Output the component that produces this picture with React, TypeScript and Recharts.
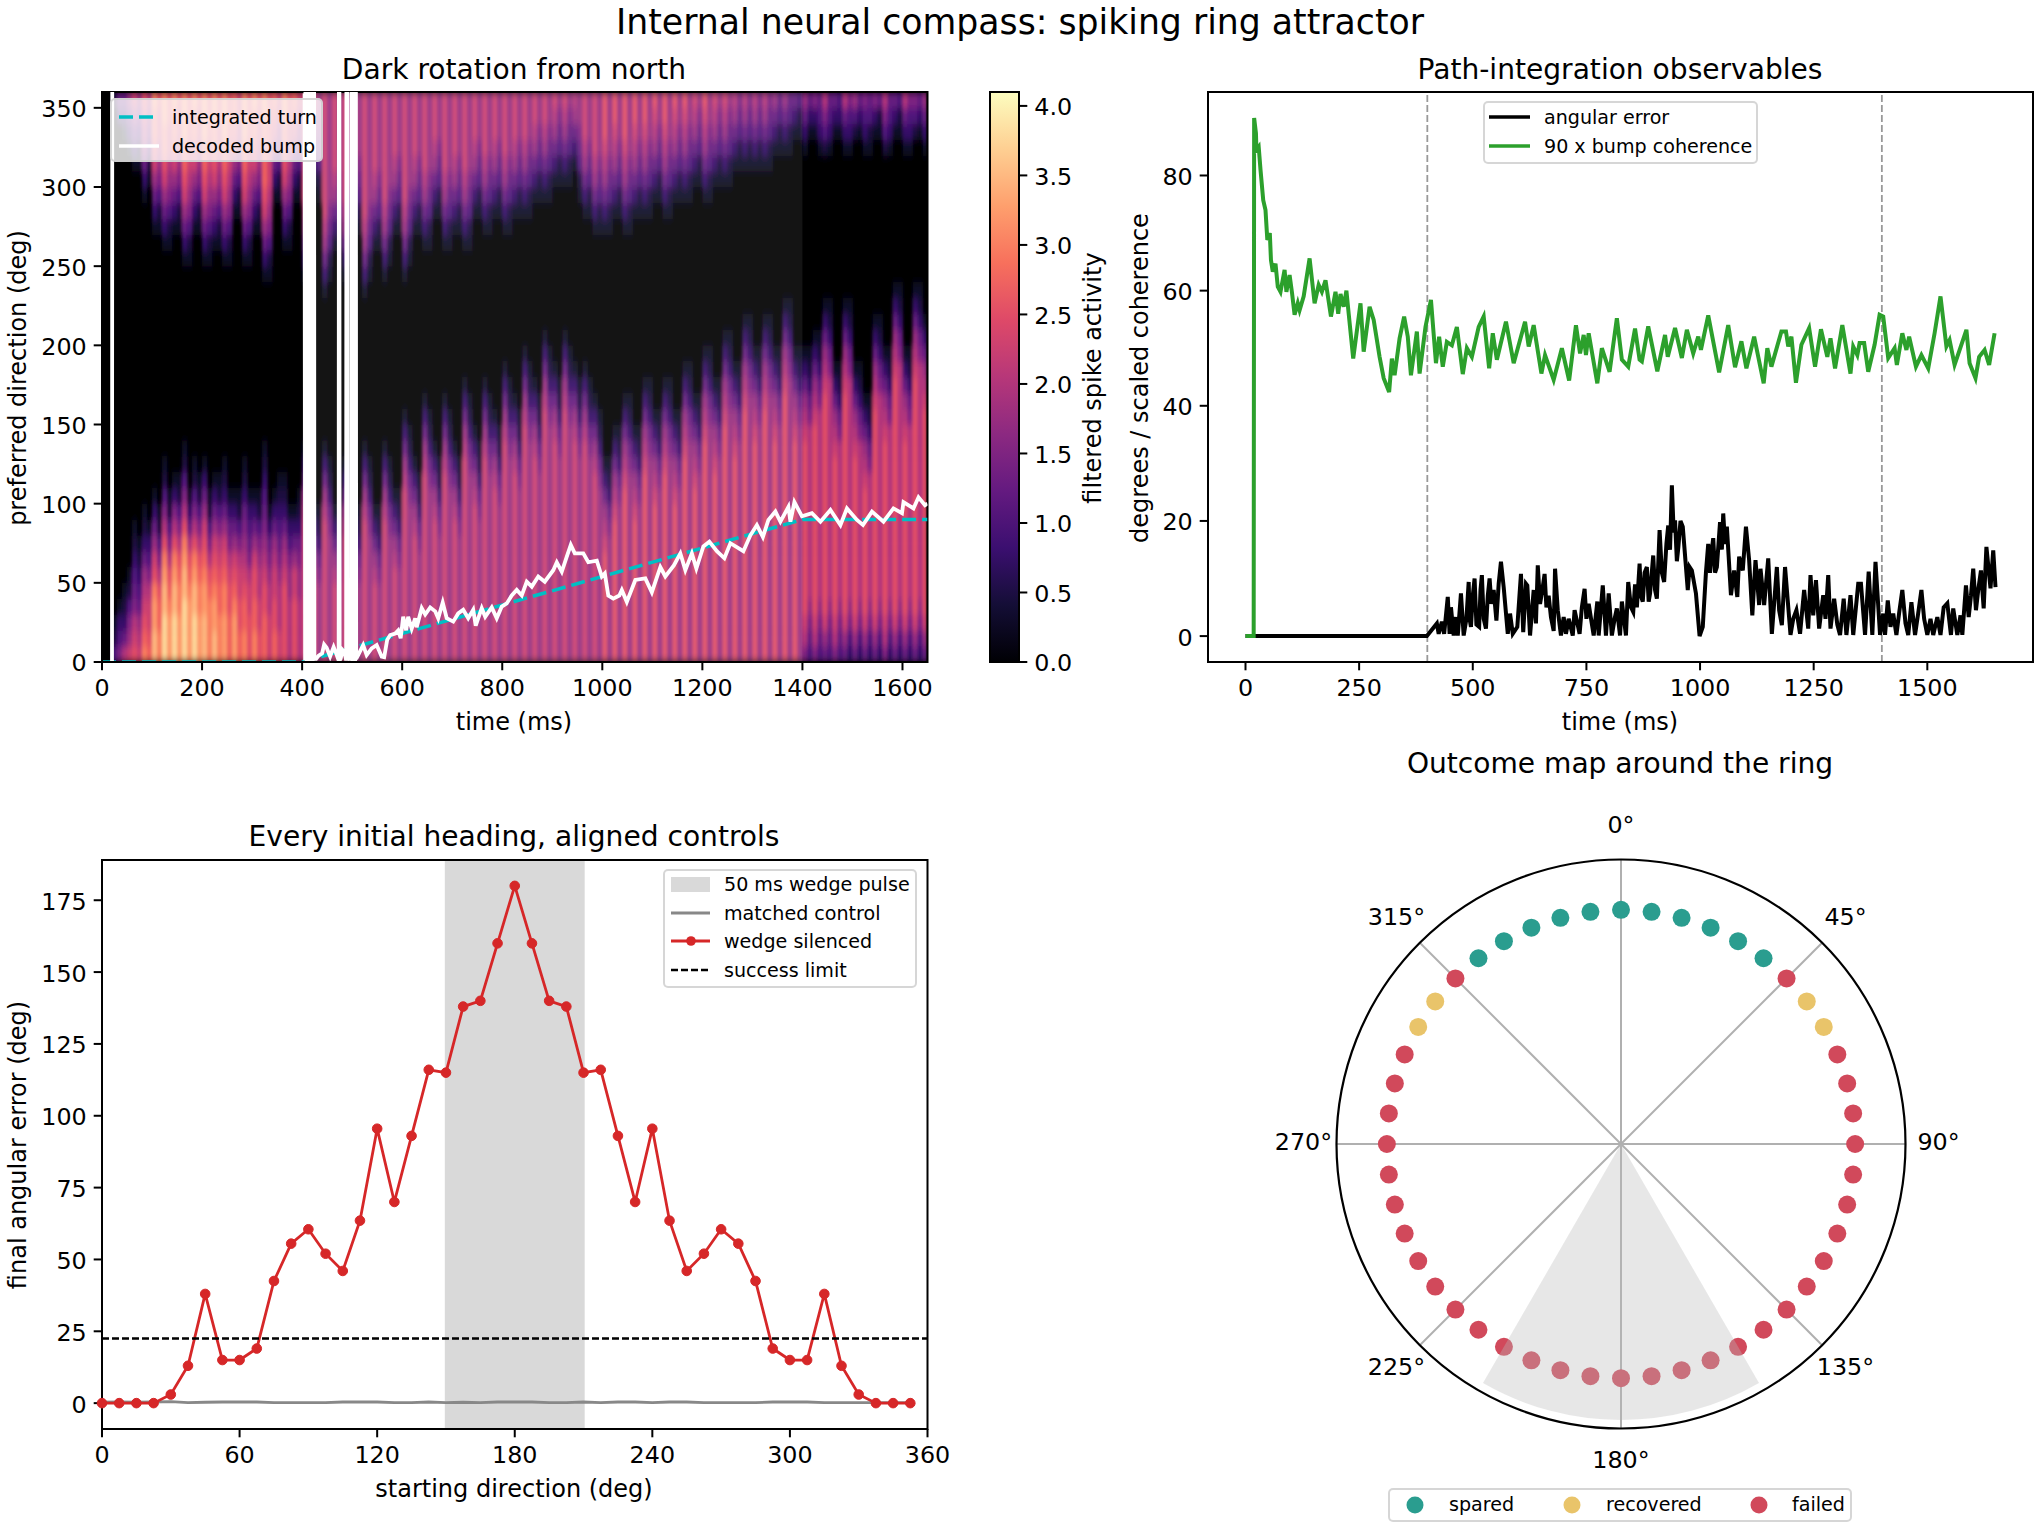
import React from "react";
import {
  ComposedChart,
  ScatterChart,
  Scatter,
  RadarChart,
  Radar,
  PolarGrid,
  PolarAngleAxis,
  PolarRadiusAxis,
  PieChart,
  Pie,
  Line,
  Area,
  XAxis,
  YAxis,
  ReferenceArea,
  ReferenceLine,
} from "recharts";

const FONT = '"DejaVu Sans", sans-serif';

// heatmap: one string per 10 ms column, "from 0 deg upward|ending at 360 deg", one char per 10 deg, in 0.25 steps
const heatColumns = [
  // 0-90
  "|", "|", "421|2", "6431|35", "85321|135", "976421|1357", "a98654321|13579", "98754321|12467", "cba9875321|135789a", "ba9986431|124678",
  // 100-190
  "eeddca97531|13579abbc", "ccbba86421|12467899a", "fffeedca86421|13579abbcc", "dddcba86421|12467899aa", "fffeedca8631|13579abbc", "dddccba86421|12467899a", "ffffeedca86421|13579abbccc", "ddddcba8531|12467899aaa", "fffeedca86421|13579abbc", "dddccba86421|12467899a",
  // 200-290
  "eeeddcba97531|13579abbccc", "ccccba86421|12467899aaa", "eeddcba97531|13579abbcc", "cccbba986421|12467899aa", "dddccba975321|13579abbccc", "bbbaa986531|12467899aaa", "dddcba97531|13579abb", "bbaa9986421|12467899", "ccbba98765321|13579abbccc", "aaa99865431|12467899aaa",
  // 300-390
  "ccbbaa97531|13579abbc", "aa998876421|12467899a", "bbbaa987654321|13579abbbbcc", "9998876531|12467899aaaa", "bbaa9987531|13579ab", "998887654321|1246789", "aaaaa9875321|13579abbcc", "8888776431|12467899aa", "aaaa997531|13579ab", "88887765321|1246789",
  // 400-490
  "99999999987531|135789999999", "777777765321|12456777", "9999987531|135789", "7777765321|1245677", "99999999987531|1357899999999", "7777777765321|124567777777", "9999987531|1357899999", "7777765321|1245677777", "9999999987531|135789999999", "777777765321|12456777777",
  // 500-590
  "9999987531|135789999", "7777765321|124567777", "99999999987531|1357899999999", "7777777765321|124567777777", "9999987531|1357899999", "7777765321|1245677777", "99999999987531|135789999999", "7777777765321|12456777777", "99999987531|135789999", "77777765321|124567777",
  // 600-690
  "9999999999987531|135789999999", "777777777765321|12456777777", "9999999987531|135789999", "777777765321|124567777", "99999999999987531|1357899999", "7777777777765321|1245677777", "99999999987531|13578999", "7777777765321|12456777", "99999999999987531|1357899999", "7777777777765321|1245677777",
  // 700-790
  "99999999987531|135789999", "7777777765321|124567777", "999999999999987531|1357899999", "77777777777765321|1245677777", "999999999987531|13578999", "77777777765321|12456777", "999999999999987531|135789999", "77777777777765321|124567777", "9999999999987531|13578999", "777777777765321|12456777",
  // 800-890
  "9999999999999987531|135789999", "777777777777765321|124567777", "99999999999987531|13578999", "7777777777765321|12456777", "99999999999999987531|13578999", "7777777777777765321|12456777", "999999999999987531|1357899", "77777777777765321|1245677", "999999999999999987531|1357899", "77777777777777765321|1245677",
  // 900-990
  "9999999999999987531|135789", "777777777777765321|124567", "999999999999999987531|135789", "77777777777777765321|124567", "9999999999999987531|13578", "777777777777765321|1245677", "9999999999999987531|13578999", "777777777777765321|12456777", "99999999999987531|135789999", "7777777777765321|124567777",
  // 1000-1090
  "aaaaaaa987531|135789aaa", "7777777765321|124567777", "aaaaaaaaa987531|135789aa", "777777777765321|12456777", "aaaaaaaaaaa987531|135789aaa", "77777777777765321|124567777", "aaaaaaaaa987531|135789aa", "777777777765321|12456777", "aaaaaaaaaaaa987531|135789aa", "777777777777765321|12456777",
  // 1100-1190
  "aaaaaaaaaa987531|135789a", "7777777777765321|1245677", "aaaaaaaaaaaa987531|135789aa", "777777777777765321|12456777", "aaaaaaaaaa987531|135789a", "7777777777765321|1245677", "aaaaaaaaaaaaa987531|135789a", "7777777777777765321|1245677", "aaaaaaaaaaa987531|135789", "77777777777765321|124567",
  // 1200-1290
  "aaaaaaaaaaaaaa987531|135789a", "77777777777777765321|1245677", "aaaaaaaaaaaa987531|135789", "777777777777765321|124567", "aaaaaaaaaaaaaaa987531|135789", "777777777777777765321|124567", "aaaaaaaaaaaaa987531|13578", "7777777777777765321|12456", "aaaaaaaaaaaaaaaa987531|13578", "7777777777777777765321|12456",
  // 1300-1390
  "aaaaaaaaaaaaaa987531|13578", "77777777777777765321|12456", "aaaaaaaaaaaaaaaa987531|13578", "7777777777777777765321|12456", "aaaaaaaaaaaaaa987531|1357", "77777777777777765321|1245", "aaaaaaaaaaaaaaaaa987531|1357", "77777777777777777765321|1245", "aaaaaaaaaaaaaa987531|135", "77777777777777765321|124",
  // 1400-1490
  "689aaaaaaaaaaa987531|1357", "45678888888888865321|135", "689aaaaaaaaaaaa987531|136", "456788888888888865321|1345", "579aaaaaaaaaaaaaa987531|2468", "45678888888888888865321|1345", "689aaaaaaaaaa987531|135", "4567888888888865321|134", "579aaaaaaaaaaaaaa987531|1358", "34678888888888888865321|1346",
  // 1500-1590
  "579aaaaaaaaaa987531|247", "3467888888888865321|135", "579aaaaaaaa987531|1346", "34678888888865321|1245", "579aaaaaaaaaaaaa987531|136", "3467888888888888865321|125", "689aaaaaaaaaaa987531|2468", "34678888888888865321|1345", "579aaaaaaaaaaaaaaa987531|135", "346788888888888888865321|124",
  // 1600-1640
  "579aaaaaaaaaaa987531|1358", "34678888888888865321|1346", "579aaaaaaaaaaaaaaa987531|246", "346788888888888888865321|135", "579aaaaaaaaaaaaa987531|1357",
];
const heatLevels = "0123456789abcdefg";
const heatLevelColors = [
  "#000004", "#0c0926", "#1b0c41", "#341068", "#4f127b", "#661a80", "#7e2482", "#982d80", "#b2357b",
  "#cc3f71", "#e24d66", "#f1605d", "#fb7f5e", "#fe9a6a", "#feb67f", "#fed799", "#fcf1b5",
];
const colorbarStops = ["#000004", "#140e36", "#3b0f70", "#641a80", "#8c2981", "#b73779", "#de4968", "#f7705c", "#fe9f6d", "#fecf92", "#fcfdbf"];
const colorbarFill = [
  { x: 0, top: 4.1 },
  { x: 1, top: 4.1 },
];

const integratedTurn = [
  { t: 0, v: 0 },
  { t: 400, v: 0 },
  { t: 1400, v: 90 },
  { t: 1650, v: 90 },
];

const decodedBump: [number, number | null][] = [
  [20, 0], [20.5, 360], [21, null],
  [404, 359], [405, 359], [406, 1], [406.5, 359], [409, 359], [409.5, 1], [411, 1], [411.5, 359], [414, 359], [414.5, 1],
  [416, 2], [416.5, 359], [419, 359], [419.5, 1], [421, 1], [421.5, 359], [424, 359], [424.5, 2],
  [428, 2], [433, 4], [440, 5.5], [444, 11], [449, 9], [456, 3.5], [463, 9.5], [468, 5.5], [473, 1], [473.5, 359],
  [474.5, 359], [475, 1], [477, 2], [481, 7.5], [485, 6], [488, 1], [488.5, 359.5], [490, 359.5], [490.5, 1], [495, 5],
  [498, 1], [498.5, 359.5], [500, 359.5], [500.5, 1], [502, 1], [502.5, 359.5], [504, 359.5], [504.5, 1], [506, 1],
  [506.5, 359.5], [507.5, 359.5], [508, 2], [512, 4.4], [522, 10.7], [529, 4.4], [539, 8.6], [549, 10.7], [559, 3.4],
  [564, 3], [570, 14], [576, 17], [586, 18], [592, 20], [597, 15], [602, 28.6], [608, 20], [612, 28.6], [619, 21],
  [626, 27.6], [629, 22], [639, 34], [646, 30], [656, 34.5], [666, 32], [672, 27.6], [681, 37.5], [689, 27.6],
  [702, 25.5], [712, 30.7], [722, 33], [732, 27.6], [742, 33], [747, 23], [759, 34], [766, 28.6], [779, 34.5],
  [789, 27.6], [799, 35], [809, 37], [819, 42], [829, 45.5], [839, 42], [849, 50.7], [859, 47.6], [872, 54], [885, 50.7],
  [902, 58], [909, 63], [919, 57], [929, 66.5], [937, 74], [945, 68.6], [962, 68.6], [972, 63], [989, 64], [999, 54],
  [1005, 56], [1012, 42], [1022, 40], [1034, 42], [1039, 45.5], [1049, 38], [1066, 51.8], [1086, 52.8], [1099, 44],
  [1116, 60], [1126, 54], [1143, 61], [1156, 68.6], [1166, 58], [1179, 68.6], [1188, 59], [1202, 73], [1214, 76],
  [1229, 70], [1244, 65.5], [1256, 75], [1282, 70], [1296, 80], [1309, 86.5], [1321, 79], [1332, 89.7], [1346, 95],
  [1356, 88.6], [1372, 98], [1376, 88.6], [1384, 101], [1399, 92], [1419, 94], [1436, 88.6], [1456, 96], [1476, 86.5],
  [1489, 97], [1509, 89.7], [1521, 86.5], [1539, 95], [1562, 88.6], [1582, 97], [1599, 94], [1602, 101], [1622, 97],
  [1632, 104], [1645, 99], [1650, 100],
];

const angularError: [number, number][] = [
  [0, 0], [399, 0], [421, 2.2], [425, 0.4], [432, 2.5], [437, 0.4], [445, 6.8], [449, 0.4], [452, 5], [458, 0.1], [463, 3.3],
  [467, 0.1], [474, 7.4], [480, 0.1], [486, 3], [491, 9.4], [493, 3], [496, 1.6], [500, 7], [504, 10], [508, 2], [514, 1.6], [517, 8], [520, 10.6], [524, 3], [529, 1.3], [533, 7], [537, 10],
  [541, 5.6], [546, 8], [552, 2.7], [557, 9.1], [562, 12.9], [568, 8.5], [577, 0.4], [582, 3.9], [588, 0.4], [598, 1.6], [606, 10.8],
  [611, 0.7], [617, 9.1], [620, 8.8], [626, 0.1], [634, 8], [639, 2.2], [643, 12.3], [648, 5.6], [653, 8], [658, 10.8], [662, 5], [667, 7], [672, 3.3],
  [678, 0.9], [681, 11.7], [687, 4.5], [694, 0.1], [700, 3.3], [705, 0.4], [711, 3], [720, 0.1], [724, 4.5], [735, 0.4],
  [740, 5], [746, 8.2], [750, 3], [755, 5.6], [766, 0.1], [774, 6], [777, 0.1], [786, 8.8], [793, 0.1], [799, 7.4], [806, 0.1], [812, 3], [817, 4.8],
  [824, 0.1], [828, 6], [837, 0.1], [842, 9.4], [848, 5], [853, 4.2], [857, 9], [861, 5], [867, 12.6], [870, 7], [874, 6], [878, 11], [883, 12], [887, 6], [890, 7.4],
  [897, 14], [901, 8], [905, 6.5], [911, 18.4], [916, 11], [921, 9.4], [926, 16], [930, 19.2], [934, 15], [938, 26.2], [942, 18], [945, 20.1], [949, 13], [952, 15.2], [957, 20], [962, 19], [968, 13], [973, 8],
  [977, 12], [982, 11.4], [991, 7.4], [999, 0], [1006, 1.6], [1013, 11.1], [1018, 16], [1022, 11], [1026, 15], [1029, 17], [1033, 11], [1037, 12], [1044, 19.8],
  [1048, 15], [1051, 21.3], [1055, 16], [1059, 19], [1068, 7.1], [1075, 11.4], [1082, 6.8], [1086, 13.8], [1094, 11.4], [1101, 19], [1108, 13.2],
  [1115, 3.6], [1122, 13.2], [1130, 5.4], [1133, 11.7], [1141, 5.4], [1150, 13.5], [1158, 0.4], [1169, 12], [1174, 4.5],
  [1180, 1.9], [1187, 12], [1199, 0.2], [1205, 3], [1212, 4.5], [1220, 0.4], [1229, 8], [1238, 1.3], [1243, 10.6], [1249, 3.6],
  [1255, 9.7], [1262, 1.3], [1271, 7.1], [1276, 3], [1282, 10.6], [1287, 1.3], [1295, 6.5], [1302, 2], [1308, 0.2], [1316, 6.5], [1322, 0.2],
  [1331, 7.1], [1337, 0.2], [1348, 9.1], [1354, 9.1], [1363, 0.2], [1371, 11.2], [1379, 0.2], [1386, 12.9], [1396, 0.2],
  [1403, 3.9], [1407, 0.2], [1413, 6.2], [1419, 1.6], [1425, 3.9], [1432, 0.2], [1438, 4], [1445, 8], [1452, 2.2], [1458, 0.2],
  [1465, 5.9], [1473, 0.2], [1480, 4], [1487, 8], [1493, 3], [1500, 0.2], [1507, 3], [1513, 0.2], [1522, 3.3], [1529, 0.2], [1536, 5], [1544, 5.7],
  [1552, 0.2], [1557, 4.8], [1566, 0.2], [1573, 3.6], [1577, 0.2], [1585, 8.8], [1591, 3.3], [1596, 7], [1601, 11.7], [1607, 4.5], [1612, 8],
  [1618, 11.4], [1624, 4.8], [1630, 15.5], [1639, 8.3], [1645, 14.9], [1650, 8.5],
];

const bumpCoherence: [number, number][] = [
  [0, 0], [18, 0], [19, 90], [23, 87.3], [24, 84.5], [29, 85], [33, 81], [39, 75.7], [44, 74], [48, 68.8], [53.5, 70], [56, 65.3],
  [60, 63.3], [66, 64.7], [71, 60.7], [77, 59.8], [86, 63.6], [90, 59.8], [97, 62.7], [102.5, 59.5], [108, 55.8], [115, 57.8],
  [119, 56.6], [128, 59], [141, 65.6], [152, 57.8], [161, 61], [168, 59.8], [176, 61.8], [188, 55.5], [198, 59.8], [204, 56],
  [209, 59.4], [216, 57.2], [222, 60], [227, 56], [237, 48.2], [253, 57.8], [260, 49.4], [273, 57.2], [282, 54.9], [295, 48.5],
  [304, 44.8], [316, 42.4], [322, 48.2], [328, 45.3], [339, 51.7], [349, 55.5], [357, 52], [364, 45.3], [377, 52.9], [383, 45.6],
  [396, 53.7], [408, 58.4], [419, 47.4], [426, 52], [434, 46.8], [443, 51.1], [454, 50.5], [465, 53.7], [478, 45.5], [487, 50],
  [498, 48.5], [513, 53.7], [524, 55.5], [536, 46.5], [544, 52.6], [553, 48], [573, 54.6], [590, 47.4], [615, 54.6], [623, 50.3],
  [634, 54], [651, 45.6], [659, 48.8], [678, 44.5], [696, 50], [712, 44.4], [727, 54], [736, 49.1], [744, 52.3], [749, 48.8],
  [755, 52.6], [774, 43.9], [784, 50], [801, 45.9], [817, 55.2], [828, 48], [842, 46.8], [857, 53.4], [867, 48], [872, 47.7],
  [886, 53.8], [906, 46], [923, 52.3], [929, 48.5], [945, 53.5], [960, 48.3], [971, 53.2], [985, 49.1], [996, 52], [1002, 49.7],
  [1018, 55.7], [1042, 45.8], [1062, 54], [1077, 46.7], [1091, 51.2], [1102, 46.5], [1119, 52], [1140, 43.9], [1148, 50],
  [1157, 46.8], [1179, 52.9], [1189, 52.9], [1194, 50.3], [1201, 52], [1211, 44], [1223, 50.6], [1240, 53.5], [1253, 46.8],
  [1266, 53.3], [1280, 48.5], [1287, 51.7], [1297, 46.5], [1313, 54], [1331, 45.6], [1337, 50.3], [1346, 48.8], [1351, 50.9],
  [1361, 50.9], [1370, 45.9], [1384, 50.6], [1395, 55.8], [1403, 55.5], [1414, 48.3], [1428, 50], [1433, 47.1], [1445, 52.6],
  [1454, 49.7], [1460, 52], [1475, 46.8], [1487, 48.8], [1502, 46.5], [1516, 52.6], [1529, 59], [1542, 50.3], [1549, 51.4],
  [1560, 47.1], [1586, 53.2], [1593, 47.4], [1606, 44.8], [1614, 48.5], [1626, 49.7], [1636, 47.1], [1648, 52.6],
];

const headings = [
  0, 7.5, 15, 22.5, 30, 37.5, 45, 52.5, 60, 67.5, 75, 82.5, 90, 97.5, 105, 112.5, 120, 127.5, 135, 142.5, 150, 157.5, 165, 172.5,
  180, 187.5, 195, 202.5, 210, 217.5, 225, 232.5, 240, 247.5, 255, 262.5, 270, 277.5, 285, 292.5, 300, 307.5, 315, 322.5, 330, 337.5, 345, 352.5,
];
const silencedError = [
  0, 0, 0, 0, 3, 13, 38, 15, 15, 19, 42.5, 55.5, 60.5, 52, 46, 63.5, 95.5, 70, 93, 116, 115, 138, 140, 160,
  180, 160, 140, 138, 115, 116, 93, 70, 95.5, 63.5, 46, 52, 60.5, 55.5, 42.5, 19, 15, 15, 38, 13, 3, 0, 0, 0,
];
const controlError = [
  0.3, 0.4, 0.3, 0.4, 0.5, 0.2, 0.3, 0.4, 0.4, 0.4, 0.2, 0.2, 0.2, 0.2, 0.4, 0.4, 0.4, 0.2, 0.2, 0.4, 0.2, 0.3, 0.2, 0.4,
  0.4, 0.4, 0.2, 0.2, 0.4, 0.2, 0.4, 0.4, 0.2, 0.4, 0.4, 0.2, 0.2, 0.2, 0.2, 0.4, 0.4, 0.4, 0.2, 0.2, 0.2, 0.2, 0.2, 0.2,
];
const ringOutcome = [
  "s", "s", "s", "s", "s", "s", "f", "r", "r", "f", "f", "f", "f", "f", "f", "f", "f", "f", "f", "f", "f", "f", "f", "f",
  "f", "f", "f", "f", "f", "f", "f", "f", "f", "f", "f", "f", "f", "f", "f", "f", "r", "r", "f", "s", "s", "s", "s", "s",
];
const outcomeColors: Record<string, string> = { s: "#2a9d8f", r: "#e9c46a", f: "#d1495b" };

const heatCells: { t: number; dir: number; level: number }[] = [];
heatColumns.forEach((col, i) => {
  const [low, high] = col.split("|");
  [...low].forEach((c, k) => heatCells.push({ t: i * 10 + 5, dir: k * 10 + 5, level: heatLevels.indexOf(c) }));
  [...high].forEach((c, k) => heatCells.push({ t: i * 10 + 5, dir: 355 - (high.length - 1 - k) * 10, level: heatLevels.indexOf(c) }));
});
const pairs = (list: [number, number | null][]) => list.map(([t, v]) => ({ t, v }));
const headingTable = headings.map((h, i) => ({ h, silenced: silencedError[i], control: controlError[i] }));
const ringTable = headings.map((h) => ({ h, r: 0.823 }));

const axisStyle = {
  stroke: "#000",
  tickSize: 8.3,
  tickMargin: 7,
  interval: 0 as const,
  tickLine: { strokeWidth: 2 },
  axisLine: { strokeWidth: 2 },
};
const xTick = { fill: "#000", fontSize: 23.8, fontFamily: FONT, dy: 2 };
const yTick = { fill: "#000", fontSize: 23.8, fontFamily: FONT, dy: 1 };

const plots = {
  heat: { x: 101.5, y: 92, w: 825.5, h: 570 },
  bar: { x: 990, y: 92, w: 29, h: 570 },
  path: { x: 1208, y: 92, w: 825, h: 570 },
  head: { x: 101.5, y: 860, w: 825.5, h: 569 },
};
const PAD = { left: 90, top: 20, right: 70, bottom: 70 };
const boxOf = (p: { x: number; y: number; w: number; h: number }): React.CSSProperties => ({
  position: "absolute",
  left: p.x - PAD.left,
  top: p.y - PAD.top,
});
const sizeOf = (p: { w: number; h: number }) => ({
  width: p.w + PAD.left + PAD.right,
  height: p.h + PAD.top + PAD.bottom,
  margin: { top: PAD.top, right: PAD.right, left: 0, bottom: 0 },
});

function Txt({ x, y, size = 24, rotate = 0, anchor = "center", children }: any) {
  const shift = anchor === "center" ? "-50%" : "0";
  return (
    <div
      style={{
        position: "absolute",
        left: x,
        top: y,
        transform: `translate(${shift}, -50%) rotate(${rotate}deg)`,
        fontFamily: FONT,
        fontSize: size,
        lineHeight: 1,
        whiteSpace: "nowrap",
        color: "#000",
      }}
    >
      {children}
    </div>
  );
}

function LegendBox({ x, y, w, h }: any) {
  return (
    <div
      style={{
        position: "absolute",
        left: x,
        top: y,
        width: w,
        height: h,
        boxSizing: "border-box",
        background: "rgba(255,255,255,0.8)",
        border: "2px solid rgba(204,204,204,0.8)",
        borderRadius: 5,
      }}
    />
  );
}

function LegendLine({ x, y, w, color, dash, size = 3.5 }: any) {
  return (
    <svg style={{ position: "absolute", left: x, top: y - 5, width: w, height: 10 }}>
      <line x1={0} x2={w} y1={5} y2={5} stroke={color} strokeWidth={size} strokeDasharray={dash} />
    </svg>
  );
}

function HeatCell(props: any) {
  const { cx, cy, payload } = props;
  const w = plots.heat.w / 165;
  const h = plots.heat.h / 36;
  return <rect x={cx - w / 2} y={cy - h / 2} width={w + 0.5} height={h + 0.5} fill={heatLevelColors[payload.level]} />;
}

function RingDot(props: any) {
  return <circle cx={props.cx} cy={props.cy} r={9} fill={outcomeColors[ringOutcome[props.index]]} stroke="none" />;
}

function RingTick(props: any) {
  const deg = props.payload.value;
  if (deg % 45 !== 0) return null;
  return (
    <text x={props.x} y={props.y - 2} textAnchor="middle" dominantBaseline="central" fill="#000" fontSize={23.8} fontFamily={FONT}>
      {deg}°
    </text>
  );
}

export default function App() {
  const heat = plots.heat;
  const head = plots.head;
  return (
    <div style={{ position: "absolute", left: 0, top: 0, width: 2040, height: 1530, background: "#fff", overflow: "hidden" }}>
      <svg width={0} height={0} style={{ position: "absolute" }}>
        <filter id="heatSoft" x="-2%" y="-2%" width="104%" height="104%">
          <feGaussianBlur stdDeviation="1.4 4" />
        </filter>
      </svg>

      <Txt x={1020} y={22} size={34.7}>Internal neural compass: spiking ring attractor</Txt>

      {/* heatmap */}
      <Txt x={514} y={70} size={28.1}>Dark rotation from north</Txt>
      <div style={{ position: "absolute", left: heat.x, top: heat.y, width: heat.w, height: heat.h, overflow: "hidden", background: "#000" }}>
        <div style={{ filter: "url(#heatSoft)" }}>
          <ScatterChart width={heat.w} height={heat.h} margin={{ top: 0, right: 0, bottom: 0, left: 0 }}>
            <XAxis hide type="number" dataKey="t" domain={[0, 1650]} />
            <YAxis hide type="number" dataKey="dir" domain={[0, 360]} />
            <Scatter data={heatCells} shape={HeatCell} isAnimationActive={false} />
          </ScatterChart>
        </div>
      </div>
      <div style={boxOf(heat)}>
        <ComposedChart {...sizeOf(heat)}>
          <XAxis {...axisStyle} tick={xTick} type="number" dataKey="t" domain={[0, 1650]} ticks={[0, 200, 400, 600, 800, 1000, 1200, 1400, 1600]} height={PAD.bottom} allowDataOverflow />
          <YAxis {...axisStyle} tick={yTick} type="number" domain={[0, 360]} ticks={[0, 50, 100, 150, 200, 250, 300, 350]} width={PAD.left} allowDataOverflow />
          <ReferenceArea x1={400} x2={1400} y1={0} y2={360} fill="#fff" fillOpacity={0.08} stroke="none" />
          <Line data={integratedTurn} dataKey="v" type="linear" stroke="#00bfc4" strokeWidth={3.5} strokeDasharray="14 6" dot={false} isAnimationActive={false} />
          <Line data={pairs(decodedBump)} dataKey="v" type="linear" stroke="#fff" strokeWidth={3.8} dot={false} isAnimationActive={false} />
          <ReferenceArea x1={0} x2={1650} y1={0} y2={360} fill="none" stroke="#000" strokeWidth={2} />
        </ComposedChart>
      </div>
      <LegendBox x={110} y={98} w={213} h={64} />
      <LegendLine x={119} y={117} w={40} color="#00bfc4" dash="14 6" />
      <LegendLine x={119} y={146} w={40} color="#fff" />
      <Txt x={172} y={118} size={19.1} anchor="left">integrated turn</Txt>
      <Txt x={172} y={147} size={19.1} anchor="left">decoded bump</Txt>
      <Txt x={1093} y={378} rotate={-90}>filtered spike activity</Txt>
      <Txt x={18} y={378} rotate={-90}>preferred direction (deg)</Txt>
      <Txt x={514} y={722}>time (ms)</Txt>

      {/* colorbar */}
      <div style={boxOf(plots.bar)}>
        <ComposedChart {...sizeOf(plots.bar)} margin={{ top: PAD.top, right: 0, left: 0, bottom: 0 }} data={colorbarFill}>
          <defs>
            <linearGradient id="magmaBar" x1="0" y1="1" x2="0" y2="0">
              {colorbarStops.map((c, i) => (
                <stop key={c} offset={`${i * 10}%`} stopColor={c} />
              ))}
            </linearGradient>
          </defs>
          <XAxis type="number" dataKey="x" domain={[0, 1]} height={PAD.bottom} tick={false} tickLine={false} stroke="#000" axisLine={{ strokeWidth: 2 }} />
          <YAxis type="number" domain={[0, 4.1]} width={PAD.left} tick={false} tickLine={false} stroke="#000" axisLine={{ strokeWidth: 2 }} />
          <YAxis
            {...axisStyle}
            tick={yTick}
            yAxisId="bar"
            orientation="right"
            type="number"
            domain={[0, 4.1]}
            ticks={[0, 0.5, 1, 1.5, 2, 2.5, 3, 3.5, 4]}
            tickFormatter={(v: number) => v.toFixed(1)}
            width={PAD.right}
          />
          <Area yAxisId="bar" dataKey="top" type="linear" fill="url(#magmaBar)" fillOpacity={1} stroke="none" dot={false} isAnimationActive={false} />
          <ReferenceArea yAxisId="bar" x1={0} x2={1} y1={0} y2={4.1} fill="none" stroke="#000" strokeWidth={2} />
        </ComposedChart>
      </div>

      {/* observables */}
      <Txt x={1620} y={70} size={28.1}>Path-integration observables</Txt>
      <div style={boxOf(plots.path)}>
        <ComposedChart {...sizeOf(plots.path)}>
          <XAxis {...axisStyle} tick={xTick} type="number" dataKey="t" domain={[-82.5, 1732.5]} ticks={[0, 250, 500, 750, 1000, 1250, 1500]} height={PAD.bottom} />
          <YAxis {...axisStyle} tick={yTick} type="number" domain={[-4.5, 94.5]} ticks={[0, 20, 40, 60, 80]} width={PAD.left} />
          <ReferenceLine x={400} stroke="#999" strokeWidth={1.8} strokeDasharray="7 3" />
          <ReferenceLine x={1400} stroke="#999" strokeWidth={1.8} strokeDasharray="7 3" />
          <Line data={pairs(angularError)} dataKey="v" type="linear" stroke="#000" strokeWidth={4} dot={false} isAnimationActive={false} />
          <Line data={pairs(bumpCoherence)} dataKey="v" type="linear" stroke="#2ca02c" strokeWidth={4} dot={false} isAnimationActive={false} />
          <ReferenceArea x1={-82.5} x2={1732.5} y1={-4.5} y2={94.5} fill="none" stroke="#000" strokeWidth={2} />
        </ComposedChart>
      </div>
      <LegendBox x={1483} y={101} w={275} h={63} />
      <LegendLine x={1489} y={117} w={41} color="#000" />
      <LegendLine x={1489} y={146} w={41} color="#2ca02c" />
      <Txt x={1544} y={118} size={19.1} anchor="left">angular error</Txt>
      <Txt x={1544} y={147} size={19.1} anchor="left">90 x bump coherence</Txt>
      <Txt x={1140} y={378} rotate={-90}>degrees / scaled coherence</Txt>
      <Txt x={1620} y={722}>time (ms)</Txt>

      {/* heading sweep */}
      <Txt x={514} y={837} size={28.1}>Every initial heading, aligned controls</Txt>
      <div style={boxOf(head)}>
        <ComposedChart {...sizeOf(head)} data={headingTable}>
          <XAxis {...axisStyle} tick={xTick} type="number" dataKey="h" domain={[0, 360]} ticks={[0, 60, 120, 180, 240, 300, 360]} height={PAD.bottom} />
          <YAxis {...axisStyle} tick={yTick} type="number" domain={[-9, 189]} ticks={[0, 25, 50, 75, 100, 125, 150, 175]} width={PAD.left} />
          <ReferenceArea x1={149.5} x2={210.5} y1={-9} y2={189} fill="#d9d9d9" fillOpacity={1} stroke="none" />
          <Line dataKey="control" type="linear" stroke="#888" strokeWidth={2.8} dot={false} isAnimationActive={false} />
          <Line dataKey="silenced" type="linear" stroke="#d62728" strokeWidth={2.8} dot={{ r: 4.8, fill: "#d62728", stroke: "#d62728", strokeWidth: 1 }} isAnimationActive={false} />
          <ReferenceLine y={22.5} stroke="#000" strokeWidth={2.4} strokeDasharray="7 3" />
          <ReferenceArea x1={0} x2={360} y1={-9} y2={189} fill="none" stroke="#000" strokeWidth={2} />
        </ComposedChart>
      </div>
      <LegendBox x={663} y={869} w={254} h={119} />
      <div style={{ position: "absolute", left: 671, top: 877, width: 39, height: 15, background: "#d9d9d9" }} />
      <LegendLine x={671} y={913} w={39} color="#888" size={2.8} />
      <LegendLine x={671} y={941} w={39} color="#d62728" size={2.8} />
      <svg style={{ position: "absolute", left: 685, top: 935, width: 12, height: 12 }}>
        <circle cx={6} cy={6} r={4.8} fill="#d62728" />
      </svg>
      <LegendLine x={671} y={970} w={39} color="#000" size={2.4} dash="7 3" />
      <Txt x={724} y={885} size={19.1} anchor="left">50 ms wedge pulse</Txt>
      <Txt x={724} y={914} size={19.1} anchor="left">matched control</Txt>
      <Txt x={724} y={942} size={19.1} anchor="left">wedge silenced</Txt>
      <Txt x={724} y={971} size={19.1} anchor="left">success limit</Txt>
      <Txt x={18} y={1145} rotate={-90}>final angular error (deg)</Txt>
      <Txt x={514} y={1489}>starting direction (deg)</Txt>

      {/* ring */}
      <Txt x={1620} y={764} size={28.1}>Outcome map around the ring</Txt>
      <div style={{ position: "absolute", left: 1220.5, top: 744 }}>
        <RadarChart width={800} height={800} cx={400} cy={400} outerRadius={284.5} innerRadius={0} data={ringTable}>
          <PolarGrid gridType="circle" polarRadius={[]} polarAngles={[0, 45, 90, 135, 180, 225, 270, 315]} stroke="#b0b0b0" strokeWidth={2} />
          <PolarGrid gridType="circle" radialLines={false} polarRadius={[284.5]} polarAngles={[]} stroke="#000" strokeWidth={2.2} />
          <PolarAngleAxis dataKey="h" tick={RingTick} tickSize={33} axisLine={false} tickLine={false} />
          <PolarRadiusAxis domain={[0, 1]} tick={false} axisLine={false} />
          <Radar dataKey="r" stroke="none" fill="none" dot={RingDot} isAnimationActive={false} />
        </RadarChart>
      </div>
      <div style={{ position: "absolute", left: 1220.5, top: 744 }}>
        <PieChart width={800} height={800} margin={{ top: 0, right: 0, bottom: 0, left: 0 }}>
          <Pie data={[{ v: 1 }]} dataKey="v" cx={400} cy={400} innerRadius={0} outerRadius={276} startAngle={-60} endAngle={-120} fill="#bbbbbb" fillOpacity={0.35} stroke="none" isAnimationActive={false} />
        </PieChart>
      </div>
      <LegendBox x={1388} y={1488} w={464} h={34} />
      <svg style={{ position: "absolute", left: 1388, top: 1488, width: 464, height: 34 }}>
        <circle cx={27} cy={17} r={8.5} fill={outcomeColors.s} />
        <circle cx={184} cy={17} r={8.5} fill={outcomeColors.r} />
        <circle cx={371} cy={17} r={8.5} fill={outcomeColors.f} />
      </svg>
      <Txt x={1449} y={1505} size={19.1} anchor="left">spared</Txt>
      <Txt x={1606} y={1505} size={19.1} anchor="left">recovered</Txt>
      <Txt x={1792} y={1505} size={19.1} anchor="left">failed</Txt>
    </div>
  );
}
